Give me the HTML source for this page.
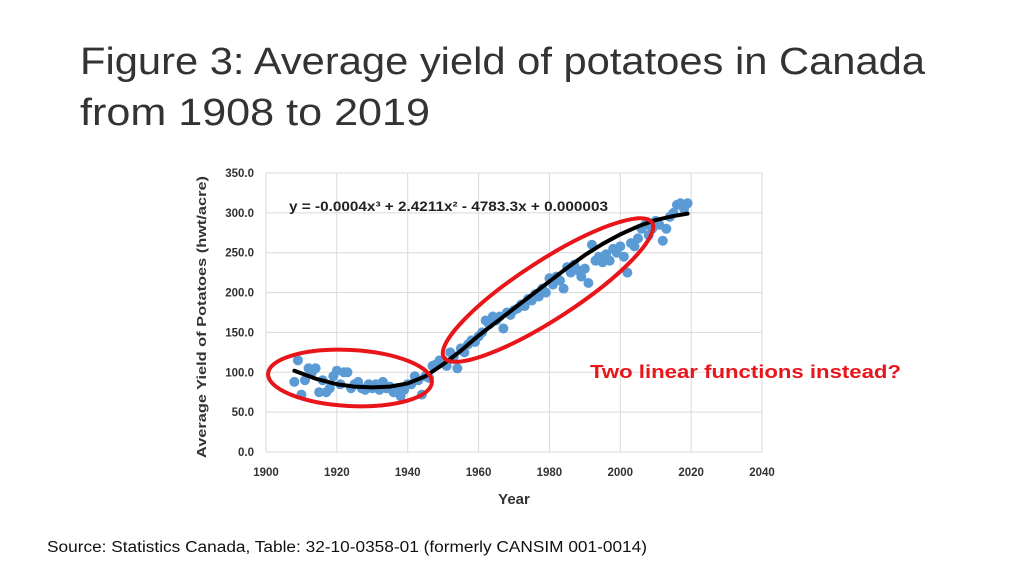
<!DOCTYPE html>
<html><head><meta charset="utf-8"><style>
html,body{margin:0;padding:0;background:#fff;}
svg{display:block;font-family:"Liberation Sans",Arial,sans-serif;}
</style></head><body>
<svg id="chart" width="1024" height="576" viewBox="0 0 1024 576">
<text x="80" y="74" font-size="38" fill="#333" textLength="845" lengthAdjust="spacingAndGlyphs">Figure 3: Average yield of potatoes in Canada</text>
<text x="80" y="125" font-size="38" fill="#333" textLength="350" lengthAdjust="spacingAndGlyphs">from 1908 to 2019</text>
<g id="grid"></g>
<g id="axes"></g>
<g id="points"></g>
<g id="trendg"></g>
<ellipse cx="350" cy="378" rx="82" ry="28" transform="rotate(3 350 378)" fill="none" stroke="#e8161b" stroke-width="4"/>
<ellipse cx="548" cy="290" rx="124" ry="29" transform="rotate(-33 548 290)" fill="none" stroke="#e8161b" stroke-width="4"/>
<text x="289" y="211" font-size="14" font-weight="bold" fill="#222" textLength="319" lengthAdjust="spacingAndGlyphs">y = -0.0004x³ + 2.4211x² - 4783.3x + 0.000003</text>
<text x="590" y="378" font-size="18" font-weight="bold" fill="#e8161b" textLength="311" lengthAdjust="spacingAndGlyphs">Two linear functions instead?</text>
<text x="514" y="504" font-size="15" font-weight="bold" fill="#333" text-anchor="middle">Year</text>
<text transform="translate(206 317) rotate(-90)" font-size="13" font-weight="bold" fill="#333" text-anchor="middle" textLength="282" lengthAdjust="spacingAndGlyphs">Average Yield of Potatoes (hwt/acre)</text>
<text x="47" y="552" font-size="15.5" fill="#111" textLength="600" lengthAdjust="spacingAndGlyphs">Source: Statistics Canada, Table: 32-10-0358-01 (formerly CANSIM 001-0014)</text>
</svg>
<script>
const years = [];for(let y=1908;y<=2019;y++)years.push(y);
const yields = [88,115,72,90,105,100,105,75,90,75,80,95,102,85,100,100,80,85,88,80,78,85,80,85,78,88,80,82,75,80,70,78,85,85,95,90,72,95,93,108,110,115,115,108,125,120,105,130,125,135,140,138,145,150,165,160,170,165,170,155,175,172,178,180,185,183,192,190,198,195,205,200,218,210,220,215,205,232,225,235,228,220,230,212,260,240,245,238,248,240,255,250,258,245,225,262,258,268,280,285,272,280,290,285,265,280,295,300,310,312,305,312];
const trendYears = [1908,1914,1920,1925,1930,1935,1940,1945,1950,1955,1960,1965,1970,1975,1980,1985,1990,1995,2000,2005,2010,2015,2019];
const trendVals = [102,92,85,82,81,82,86,95,110,127,146,163,180,197,214,231,247,261,273,283,291,296,299];
const xTicks = [1900,1920,1940,1960,1980,2000,2020,2040];
const xGrid = [1900,1920,1940,1960,1980,2000,2020,2040];
const yTicks = [0,50,100,150,200,250,300,350];
const yTickLabels = ["0.0","50.0","100.0","150.0","200.0","250.0","300.0","350.0"];
const X0=266,X1=762,Y0=452,Y1=173;
const xs=v=>X0+(v-1900)/140*(X1-X0);
const ys=v=>Y0-v/350*(Y0-Y1);
const NS="http://www.w3.org/2000/svg";
function mk(tag,attrs,parent){const e=document.createElementNS(NS,tag);for(const k in attrs)e.setAttribute(k,attrs[k]);parent.appendChild(e);return e;}
const grid=document.getElementById('grid'),axes=document.getElementById('axes'),pts=document.getElementById('points'),tg=document.getElementById('trendg');
yTicks.forEach((t,i)=>{
  const l=mk('line',{x1:X0,x2:X1,y1:ys(t),y2:ys(t),stroke:'#d9d9d9','stroke-width':1},grid);
  
  
  const tx=mk('text',{x:X0-12,y:ys(t)+4,'font-size':11.5,'font-weight':'bold',fill:'#333','text-anchor':'end'},axes);
  tx.textContent=yTickLabels[i];
  
  
});
xGrid.forEach(t=>{
  const l=mk('line',{x1:xs(t),x2:xs(t),y1:Y1,y2:Y0,stroke:'#d9d9d9','stroke-width':1},grid);
  
  
});
xTicks.forEach(t=>{
  const tx=mk('text',{x:xs(t),y:Y0+24,'font-size':11.5,'font-weight':'bold',fill:'#333','text-anchor':'middle'},axes);
  tx.textContent=t;
  
  
});
years.forEach((y,i)=>{
  const c=mk('circle',{cx:xs(y),cy:ys(yields[i]),r:5,fill:'#5b9bd5'},pts);
  
  
});
const p=mk('polyline',{points:trendYears.map((y,i)=>xs(y)+','+ys(trendVals[i])).join(' '),fill:'none',stroke:'#000','stroke-width':4,'stroke-linejoin':'round','stroke-linecap':'round'},tg);


</script>
</body></html>
